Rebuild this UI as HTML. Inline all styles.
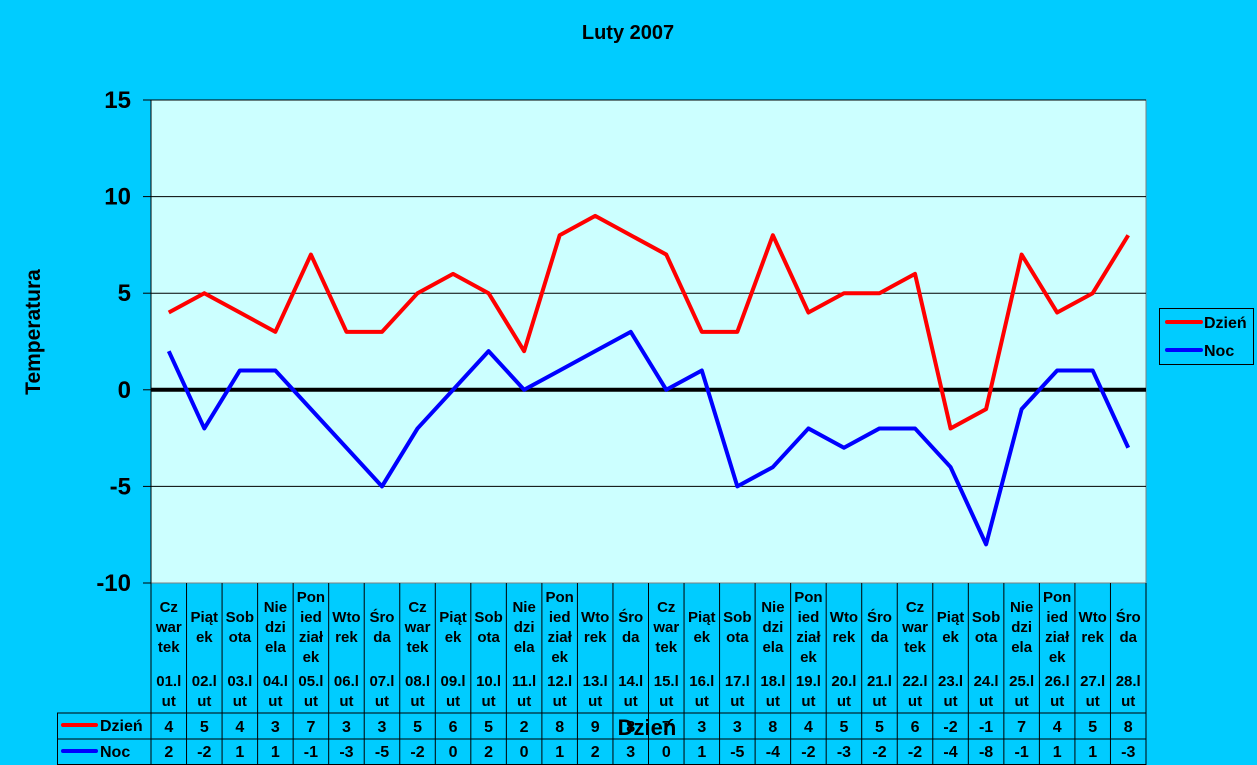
<!DOCTYPE html>
<html><head><meta charset="utf-8"><style>
body{margin:0;background:#00CCFF;}
svg{display:block;font-family:"Liberation Sans",sans-serif;font-weight:bold;}
</style></head><body>
<svg id="s" width="1257" height="765" xmlns="http://www.w3.org/2000/svg"></svg>
<script>
const s=document.getElementById('s');
const D=[4,5,4,3,7,3,3,5,6,5,2,8,9,8,7,3,3,8,4,5,5,6,-2,-1,7,4,5,8];
const N=[2,-2,1,1,-1,-3,-5,-2,0,2,0,1,2,3,0,1,-5,-4,-2,-3,-2,-2,-4,-8,-1,1,1,-3];
const names=[["Cz","war","tek"],["Piąt","ek"],["Sob","ota"],["Nie","dzi","ela"],["Pon","ied","ział","ek"],["Wto","rek"],["Śro","da"]];
const L=151,R=1146,T=100,B=583,cw=(R-L)/28;
const y=v=>T+(15-v)*(B-T)/25, x=i=>L+cw*(i+.5);
let h='';
h+=`<text x="628" y="39" font-size="20" text-anchor="middle">Luty 2007</text>`;
h+=`<rect x="${L}" y="${T}" width="${R-L}" height="${B-T}" fill="#CCFFFF" stroke="#808080"/>`;
for(let v=-10;v<=15;v+=5){const yy=y(v);
 if(v>-10&&v<15&&v!=0)h+=`<line x1="${L}" x2="${R}" y1="${yy}" y2="${yy}" stroke="#000" stroke-width="1"/>`;
 h+=`<line x1="143" x2="${L}" y1="${yy}" y2="${yy}" stroke="#000"/>`;
 h+=`<text x="131" y="${yy+8}" font-size="24" text-anchor="end">${v}</text>`;}
h+=`<line x1="${L}" x2="${R}" y1="${T}" y2="${T}" stroke="#000"/>`;
h+=`<line x1="${L}" x2="${L}" y1="${T}" y2="765" stroke="#000"/>`;
h+=`<line x1="${L}" x2="${R}" y1="${y(0)}" y2="${y(0)}" stroke="#000" stroke-width="4"/>`;
const pl=(a,c)=>`<polyline fill="none" stroke="${c}" stroke-width="4" stroke-linejoin="round" points="${a.map((v,i)=>x(i)+','+y(v)).join(' ')}"/>`;
h+=pl(D,'#FF0000')+pl(N,'#0000FF');
for(let i=0;i<=28;i++){const xx=L+cw*i;h+=`<line x1="${xx}" x2="${xx}" y1="${B}" y2="765" stroke="#000"/>`;}
h+=`<line x1="57" x2="${R}" y1="713" y2="713" stroke="#000"/><line x1="57" x2="${R}" y1="739" y2="739" stroke="#000"/><line x1="57" x2="${R}" y1="764.5" y2="764.5" stroke="#000"/><line x1="57.5" x2="57.5" y1="713" y2="765" stroke="#000"/>`;
for(let i=0;i<28;i++){const n=names[i%7],xx=x(i);const y0=627-(n.length-1)*10;
 n.forEach((t,k)=>h+=`<text x="${xx}" y="${y0+k*20+5}" font-size="15" text-anchor="middle">${t}</text>`);
 const dd=String(i+1).padStart(2,'0');
 h+=`<text x="${xx}" y="686" font-size="15" text-anchor="middle">${dd}.l</text><text x="${xx}" y="706" font-size="15" text-anchor="middle">ut</text>`;
 h+=`<text x="${xx}" y="732" font-size="16" text-anchor="middle">${D[i]}</text><text x="${xx}" y="757" font-size="16" text-anchor="middle">${N[i]}</text>`;}
h+=`<line x1="63" x2="96" y1="725" y2="725" stroke="#FF0000" stroke-width="4" stroke-linecap="round"/><text x="100" y="731" font-size="16">Dzień</text>`;
h+=`<line x1="63" x2="96" y1="751" y2="751" stroke="#0000FF" stroke-width="4" stroke-linecap="round"/><text x="100" y="757" font-size="16">Noc</text>`;
h+=`<text x="647" y="735" font-size="22" text-anchor="middle">Dzień</text>`;
h+=`<text transform="translate(40,332) rotate(-90)" font-size="21" text-anchor="middle">Temperatura</text>`;
h+=`<rect x="1159.5" y="308.5" width="94" height="56" fill="none" stroke="#000"/>`;
h+=`<line x1="1167" x2="1201" y1="322" y2="322" stroke="#FF0000" stroke-width="4" stroke-linecap="round"/><text x="1204" y="328" font-size="16">Dzień</text>`;
h+=`<line x1="1167" x2="1201" y1="350" y2="350" stroke="#0000FF" stroke-width="4" stroke-linecap="round"/><text x="1204" y="356" font-size="16">Noc</text>`;
s.innerHTML=h;
</script>
</body></html>
